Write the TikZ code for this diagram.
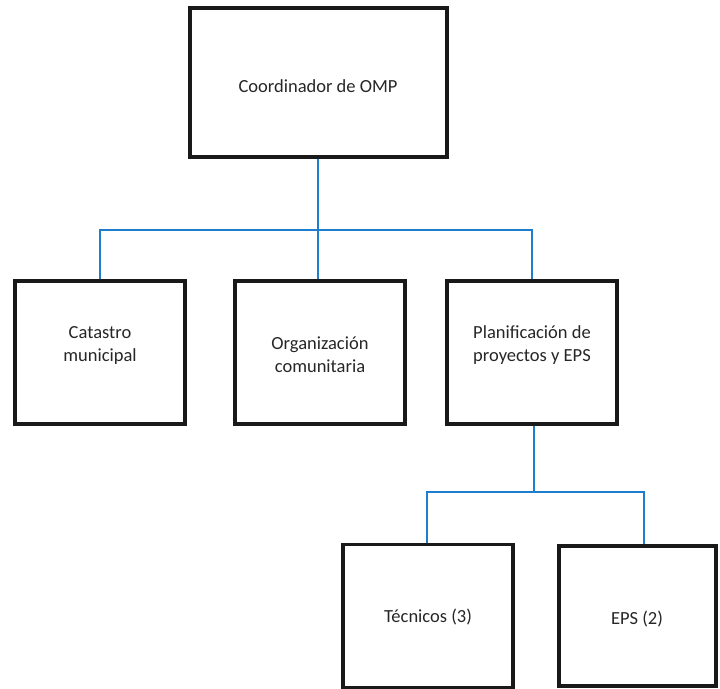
\documentclass[tikz,border=0pt]{standalone}
\usepackage{fontspec}
\setmainfont{Carlito}
\definecolor{linkblue}{RGB}{30,125,205}
\begin{document}
\begin{tikzpicture}[x=1pt,y=-1pt,
  box/.style={draw=black!90, line width=3.2pt, minimum width=#1, inner sep=0pt},
  lbl/.style={align=center, font=\fontsize{18.5}{23}\selectfont, text=black!85},
  link/.style={draw=linkblue, line width=2pt}]
\useasboundingbox (0,0) rectangle (720,688);
% boxes
\node[box=257pt, minimum height=149pt] (coord) at (318.5,82.5) {};
\node[box=170pt, minimum height=143pt] (cat) at (100,352.5) {};
\node[box=170pt, minimum height=143pt] (org) at (320,352.5) {};
\node[box=170pt, minimum height=143pt] (plan) at (532,352.5) {};
\node[box=170pt, minimum height=143pt] (tec) at (428,616) {};
\node[box=157pt, minimum height=140pt] (eps) at (637.5,616) {};
% texts
\node[lbl] (coordT) at (318,86) {Coordinador de OMP};
\node[lbl] (catT) at (100,345) {Catastro\\municipal};
\node[lbl] (orgT) at (320,355) {Organización\\comunitaria};
\node[lbl] (planT) at (532,345) {Planificación de\\proyectos y EPS};
\node[lbl] (tecT) at (428,617) {Técnicos (3)};
\node[lbl] (epsT) at (637,619) {EPS (2)};
% connectors
\coordinate (j1) at (318,230);
\coordinate (j2) at (534,492);
\draw[link] (coord.south -| j1) -- (j1);
\draw[link] (cat.north) |- (j1) -| (plan.north -| 532,0);
\draw[link] (j1) -- (j1 |- org.north);
\draw[link] (plan.south -| j2) -- (j2);
\draw[link] (tec.north -| 427,0) |- (j2) -| (eps.north -| 644,0);
\end{tikzpicture}
\end{document}
